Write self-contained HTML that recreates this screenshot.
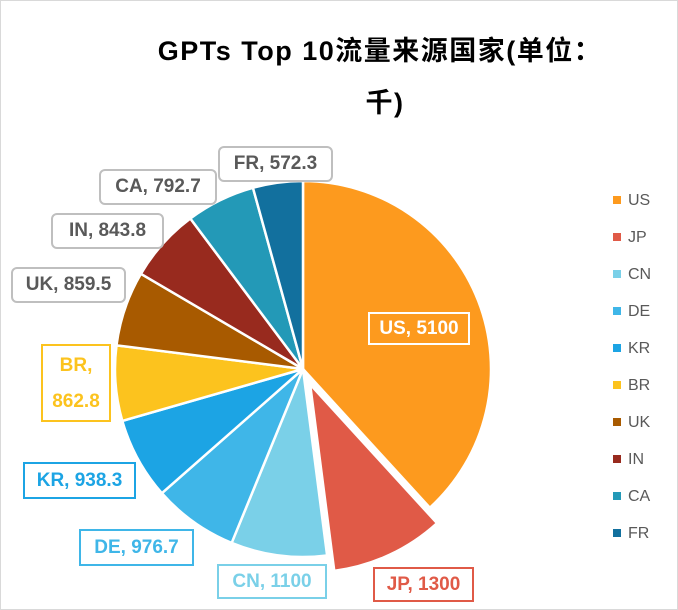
<!DOCTYPE html>
<html><head><meta charset="utf-8"><style>
body{margin:0;background:#fff}
#c{position:relative;width:676px;height:608px;border:1px solid #d9d9d9;overflow:hidden;font-family:"Liberation Sans","Noto Sans CJK SC",sans-serif}
.t{position:absolute;font-weight:bold;font-size:27px;color:#000;text-align:center;width:500px;letter-spacing:1.5px;white-space:nowrap}
.lb{position:absolute;background:#fff;border:2px solid;font-weight:bold;font-size:19px;text-align:center;box-sizing:border-box;line-height:30px;white-space:nowrap}
.lg{position:absolute;left:612px;font-size:16px;color:#595959}
.lg i{display:inline-block;width:8px;height:8px;margin-right:7px;vertical-align:1px}
</style></head><body><div id="c">
<div class="t" style="left:129px;top:28px">GPTs Top 10流量来源国家(单位：</div>
<div class="t" style="left:134px;top:80px">千)</div>
<svg id="s" width="676" height="608" style="position:absolute;left:0;top:0"></svg>
<div class="lb" style="left:367px;top:311px;width:102px;height:33px;border-color:#fff;color:#fff;background:transparent">US, 5100</div>
<div class="lb" style="left:372px;top:566px;width:101px;height:35px;border-color:#e05a47;color:#e05a47;line-height:32px">JP, 1300</div>
<div class="lb" style="left:216px;top:563px;width:110px;height:35px;border-color:#7ad0e8;color:#7ad0e8;line-height:32px">CN, 1100</div>
<div class="lb" style="left:78px;top:528px;width:115px;height:37px;border-color:#3fb6e8;color:#3fb6e8;line-height:33px">DE, 976.7</div>
<div class="lb" style="left:22px;top:461px;width:113px;height:37px;border-color:#1ca4e4;color:#1ca4e4;line-height:33px">KR, 938.3</div>
<div class="lb" style="left:40px;top:343px;width:70px;height:78px;border-color:#fcc31e;color:#fcc31e;line-height:36px;padding-top:2px">BR,<br>862.8</div>
<div class="lb" style="left:10px;top:266px;width:115px;height:36px;border-color:#bfbfbf;color:#595959;border-radius:6px;line-height:32px">UK, 859.5</div>
<div class="lb" style="left:50px;top:212px;width:113px;height:36px;border-color:#bfbfbf;color:#595959;border-radius:6px;line-height:32px">IN, 843.8</div>
<div class="lb" style="left:98px;top:168px;width:118px;height:36px;border-color:#bfbfbf;color:#595959;border-radius:6px;line-height:32px">CA, 792.7</div>
<div class="lb" style="left:217px;top:145px;width:115px;height:36px;border-color:#bfbfbf;color:#595959;border-radius:6px;line-height:32px">FR, 572.3</div>
<div class="lg" style="top:191px"><i style="background:#fd9a1e"></i>US</div>
<div class="lg" style="top:228px"><i style="background:#e05a47"></i>JP</div>
<div class="lg" style="top:265px"><i style="background:#7ad0e8"></i>CN</div>
<div class="lg" style="top:302px"><i style="background:#3fb6e8"></i>DE</div>
<div class="lg" style="top:339px"><i style="background:#1ca4e4"></i>KR</div>
<div class="lg" style="top:376px"><i style="background:#fcc31e"></i>BR</div>
<div class="lg" style="top:413px"><i style="background:#a85a00"></i>UK</div>
<div class="lg" style="top:450px"><i style="background:#982a1e"></i>IN</div>
<div class="lg" style="top:487px"><i style="background:#2399b7"></i>CA</div>
<div class="lg" style="top:524px"><i style="background:#12709e"></i>FR</div>
</div>
<script>
var v=[5100,1300,1100,976.7,938.3,862.8,859.5,843.8,792.7,572.3];
var c=["#fd9a1e","#e05a47","#7ad0e8","#3fb6e8","#1ca4e4","#fcc31e","#a85a00","#982a1e","#2399b7","#12709e"];
var T=v.reduce((a,b)=>a+b),cx=302,cy=368,r=188,a=0,h="";
for(var i=0;i<10;i++){var s=a,e=a+v[i]/T*2*Math.PI;a=e;var m=(s+e)/2,ox=0,oy=0;
if(i==1){ox=17*Math.sin(m);oy=-17*Math.cos(m);}
var x=cx+ox,y=cy+oy;
var p="M"+x+","+y+"L"+(x+r*Math.sin(s))+","+(y-r*Math.cos(s))+"A"+r+","+r+" 0 "+(e-s>Math.PI?1:0)+" 1 "+(x+r*Math.sin(e))+","+(y-r*Math.cos(e))+"Z";
h+='<path d="'+p+'" fill="'+c[i]+'" stroke="#fff" stroke-width="2.5" stroke-linejoin="round"/>';}
document.getElementById('s').innerHTML=h;
</script>
</body></html>
